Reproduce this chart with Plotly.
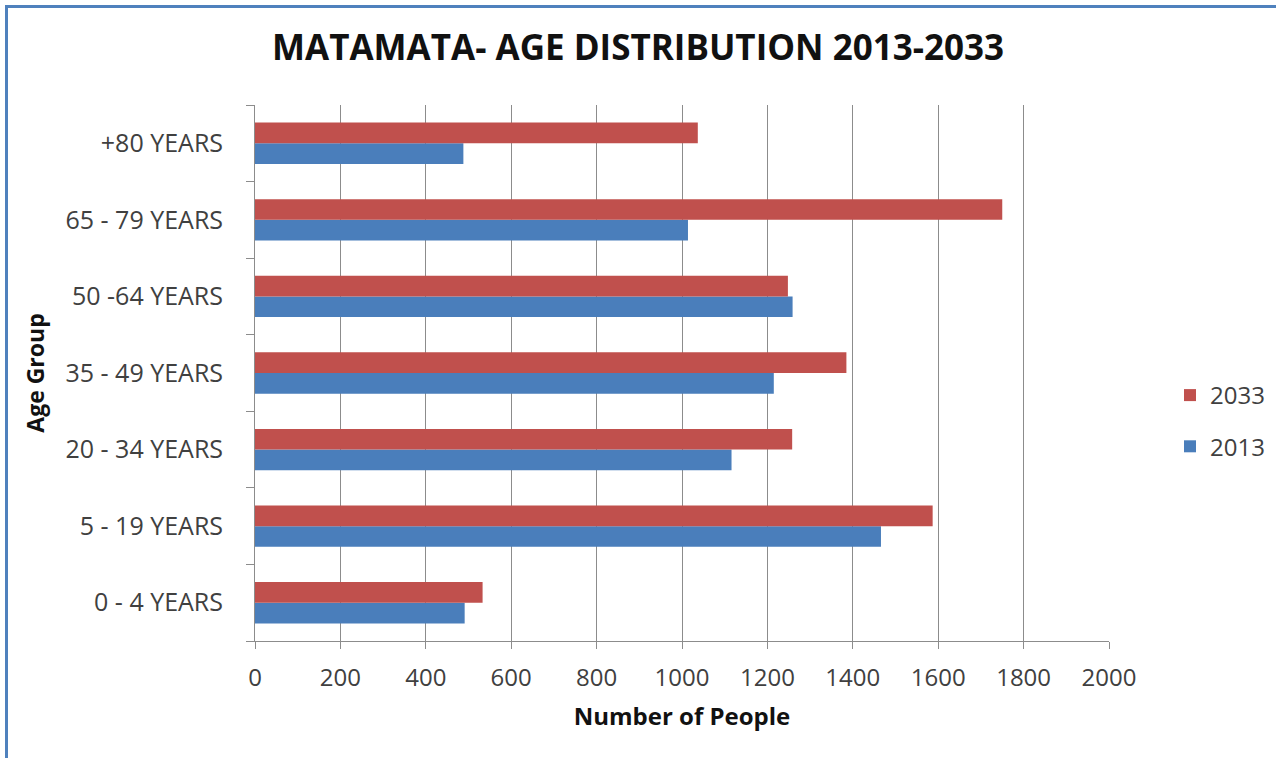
import plotly.graph_objects as go

# Age groups, bottom to top on the chart
age_groups = ["0 - 4 YEARS", "5 - 19 YEARS", "20 - 34 YEARS", "35 - 49 YEARS",
              "50 -64 YEARS", "65 - 79 YEARS", "+80 YEARS"]
people_2013 = [491, 1466, 1116, 1215, 1259, 1014, 488]
people_2033 = [533, 1587, 1258, 1385, 1248, 1750, 1037]
x_ticks = [0, 200, 400, 600, 800, 1000, 1200, 1400, 1600, 1800, 2000]

W, H = 1276, 758
ML, MR, MT, MB = 255, 167, 105, 117
PW, PH = W - ML - MR, H - MT - MB

FONT = "Open Sans"
TXT = "#404040"

fig = go.Figure()
fig.add_trace(go.Bar(y=age_groups, x=people_2013, name="2013", orientation="h",
                     legendgroup="y2013", legendrank=2,
                     marker=dict(color="#4A7EBB", line=dict(width=0))))
fig.add_trace(go.Bar(y=age_groups, x=people_2033, name="2033", orientation="h",
                     legendgroup="y2033", legendrank=1,
                     marker=dict(color="#C0504D", line=dict(width=0))))


def px_x(p):
    return (p - ML) / PW


def px_y(p):
    return 1 - (p - MT) / PH


border = "#4F81BD"
fig.add_shape(type="line", xref="paper", yref="paper",
              x0=px_x(6.5), x1=px_x(6.5), y0=px_y(H + 5), y1=px_y(6.5),
              line=dict(color=border, width=3))
fig.add_shape(type="line", xref="paper", yref="paper",
              x0=px_x(5), x1=px_x(W + 5), y0=px_y(6.5), y1=px_y(6.5),
              line=dict(color=border, width=3))

fig.update_layout(
    width=W, height=H,
    margin=dict(l=ML, r=MR, t=MT, b=MB, autoexpand=False),
    paper_bgcolor="white", plot_bgcolor="white",
    barmode="group", bargap=0.46, bargroupgap=0,
    title=dict(text="<b>MATAMATA- AGE DISTRIBUTION 2013-2033</b>",
               x=638 / W, xanchor="center", y=1 - 48 / H, yanchor="middle",
               font=dict(family=FONT, size=35, color="#111111")),
    font=dict(family=FONT, color=TXT),
    legend=dict(traceorder="grouped", xref="container", yref="container",
                x=1170 / W, xanchor="left",
                y=1 - 421 / H, yanchor="middle",
                font=dict(family=FONT, size=24, color=TXT),
                itemwidth=30, tracegroupgap=17, bgcolor="rgba(0,0,0,0)"),
    xaxis=dict(range=[0, 2000], tickvals=x_ticks, ticktext=[str(v) for v in x_ticks],
               showgrid=True, gridcolor="#8C8C8C", gridwidth=1,
               showline=True, linecolor="#8C8C8C", linewidth=1,
               ticks="outside", ticklen=7, tickcolor="#8C8C8C",
               tickfont=dict(family=FONT, size=24, color=TXT),
               ticklabelstandoff=8, automargin=False,
               zeroline=False,
               title=dict(text="<b>Number of People</b>", standoff=16,
                          font=dict(family=FONT, size=24, color="#111111"))),
    yaxis=dict(categoryorder="array", categoryarray=age_groups,
               showline=True, linecolor="#8C8C8C", linewidth=1,
               ticks="outside", ticklen=8, tickcolor="#8C8C8C",
               tickson="boundaries", showgrid=False, automargin=False,
               tickfont=dict(family=FONT, size=25, color=TXT),
               ticksuffix="    ",
               title=dict(text="<b>Age Group</b>", standoff=14,
                          font=dict(family=FONT, size=23, color="#111111"))),
)

fig.write_html("out.html")
